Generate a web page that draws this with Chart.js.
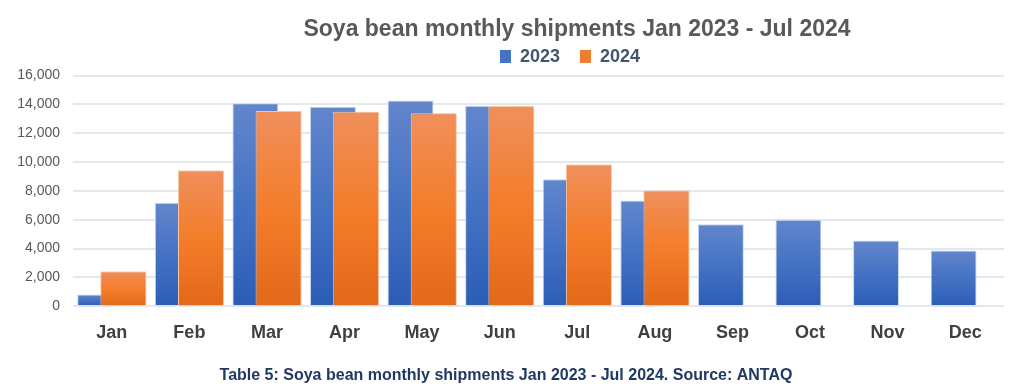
<!DOCTYPE html>
<html>
<head>
<meta charset="utf-8">
<script src="https://cdn.jsdelivr.net/npm/chart.js@4/dist/chart.umd.min.js"></script>
<style>
html,body{margin:0;padding:0;background:#fff;}
#wrap{width:1024px;height:386px;position:relative;}
</style>
</head>
<body>
<div id="wrap"><canvas id="c" width="1024" height="386"></canvas></div>
<script>
const months = ['Jan','Feb','Mar','Apr','May','Jun','Jul','Aug','Sep','Oct','Nov','Dec'];
const seriesNames = ['2023','2024'];
const values2023 = [810, 7170, 14080, 13840, 14280, 13910, 8800, 7340, 5690, 5990, 4560, 3870];
const values2024 = [2410, 9420, 13540, 13490, 13380, 13890, 9840, 8030, null, null, null, null];
const yTicks = [0, 2000, 4000, 6000, 8000, 10000, 12000, 14000, 16000];
const titleText = 'Soya bean monthly shipments Jan 2023 - Jul 2024';
const captionText = 'Table 5: Soya bean monthly shipments Jan 2023 - Jul 2024. Source: ANTAQ';

const FONT = "'Liberation Sans', Arial, sans-serif";
const LEGEND_PAD = 20;
const LEGEND_EXTRA = LEGEND_PAD - 4;

function barGradient(top, mid, bottom, flat){
  return function(ctx){
    const chart = ctx.chart;
    if(!chart.chartArea || !chart.scales.y || ctx.raw == null) return flat;
    const ys = chart.scales.y;
    const t = ys.getPixelForValue(ctx.raw);
    const b = ys.getPixelForValue(0);
    if(!isFinite(t) || !isFinite(b) || t === b) return flat;
    const g = chart.ctx.createLinearGradient(0, t, 0, b);
    g.addColorStop(0, top);
    g.addColorStop(0.5, mid);
    g.addColorStop(1, bottom);
    return g;
  };
}

// draw the 2024 series over the 2023 series (overlapping bars)
const redrawTop = {
  id: 'redrawTop',
  afterDatasetsDraw(chart){
    const meta = chart.getDatasetMeta(1);
    if(meta && !meta.hidden){
      const a = chart.chartArea;
      const c = chart.ctx;
      c.save();
      c.beginPath();
      c.rect(a.left, a.top - 5, a.right - a.left, a.bottom - a.top + 5);
      c.clip();
      meta.controller.draw();
      c.restore();
    }
  }
};

// shift title and legend (they sit right of centre in the original)
function shiftBox(box, dx, raiseTop, chart){
  if(!box || box._shifted) return;
  const orig = box.draw.bind(box);
  box.draw = function(area){
    const oldTop = this.top;
    this.top = oldTop - raiseTop;
    chart.ctx.save();
    chart.ctx.translate(dx, 0);
    orig(area);
    chart.ctx.restore();
    this.top = oldTop;
  };
  box._shifted = true;
}
function tightenLegend(lg){
  if(!lg || lg._tight) return;
  const origFit = lg.fit.bind(lg);
  lg.fit = function(){
    origFit();
    this.height = Math.max(0, this.height - LEGEND_EXTRA);
  };
  lg._tight = true;
}
const shiftHeader = {
  id: 'shiftHeader',
  beforeLayout(chart){ tightenLegend(chart.legend); },
  beforeDraw(chart){
    shiftBox(chart.titleBlock, 71, 0, chart);
    shiftBox(chart.legend, 64, LEGEND_EXTRA, chart);
  }
};

new Chart(document.getElementById('c'), {
  type: 'bar',
  data: {
    labels: months,
    datasets: [
      {
        label: seriesNames[0],
        data: values2023,
        backgroundColor: barGradient('#6386cc', '#4472c4', '#2c5db6', '#4472c4'),
        borderColor: '#c9d6ef',
        borderWidth: 1,
        categoryPercentage: 0.598,
        barPercentage: 1.98
      },
      {
        label: seriesNames[1],
        data: values2024,
        backgroundColor: barGradient('#f08f5c', '#f47d2a', '#e2681a', '#ed7d31'),
        borderColor: '#f7c7a7',
        borderWidth: 1,
        categoryPercentage: 0.598,
        barPercentage: 1.98
      }
    ]
  },
  options: {
    responsive: false,
    animation: false,
    devicePixelRatio: 1,
    layout: { padding: { left: 8, right: 20, top: 14, bottom: 1 } },
    plugins: {
      title: {
        display: true,
        text: titleText,
        color: '#595959',
        font: { family: FONT, size: 23, weight: 'bold' },
        padding: { top: 2, bottom: 0 }
      },
      subtitle: {
        display: true,
        text: captionText,
        position: 'bottom',
        color: '#1f3864',
        font: { family: FONT, size: 16, weight: 'bold' },
        padding: { top: 6, bottom: 0 }
      },
      legend: {
        display: true,
        position: 'top',
        labels: {
          color: '#44546a',
          font: { family: FONT, size: 18, weight: 'bold' },
          boxWidth: 11,
          boxHeight: 13,
          padding: LEGEND_PAD,
          generateLabels(chart){
            return chart.data.datasets.map((d, i) => ({
              text: d.label,
              fillStyle: i === 0 ? '#4472c4' : '#ed7d31',
              strokeStyle: i === 0 ? '#4472c4' : '#ed7d31',
              lineWidth: 0,
              hidden: !chart.isDatasetVisible(i),
              datasetIndex: i,
              fontColor: '#44546a'
            }));
          }
        }
      },
      tooltip: { enabled: false }
    },
    scales: {
      x: {
        grid: { display: false, drawTicks: false },
        border: { display: false },
        ticks: {
          color: '#404040',
          font: { family: FONT, size: 18, weight: 'bold' },
          padding: 16,
          maxRotation: 0
        }
      },
      y: {
        min: 0,
        max: 16000,
        afterBuildTicks(scale){ scale.ticks = yTicks.map(v => ({ value: v })); },
        afterFit(scale){ scale.width = 65; },
        grid: { color: '#e3e7ee', lineWidth: 2, drawTicks: false },
        border: { display: false },
        ticks: {
          color: '#595959',
          font: { family: FONT, size: 14 },
          padding: 13,
          callback: v => v.toLocaleString('en-US')
        }
      }
    }
  },
  plugins: [redrawTop, shiftHeader]
});
</script>
</body>
</html>
